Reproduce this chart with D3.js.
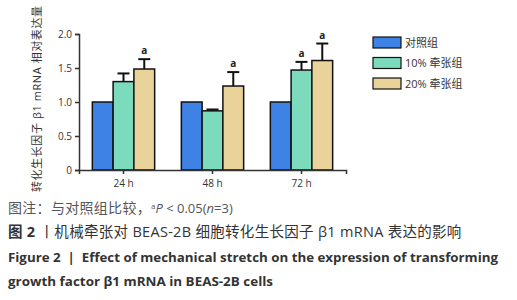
<!DOCTYPE html>
<html>
<head>
<meta charset="utf-8">
<script src="https://cdn.jsdelivr.net/npm/d3@7"></script>
<style>
  body { margin: 0; background: #fff; }
  text { font-family: "Open Sans", "Noto Sans CJK SC", sans-serif; white-space: pre; }
</style>
</head>
<body>
<div id="chart-area"></div>
<script>
// data
const times = ["24 h", "48 h", "72 h"]
const groups = ["对照组", "10% 牵张组", "20% 牵张组"]
const means = [
  [1.0, 1.30, 1.485],
  [1.0, 0.87, 1.235],
  [1.0, 1.47, 1.61]
]
const errTops = [
  [1.0, 1.42, 1.63],
  [1.0, 0.89, 1.44],
  [1.0, 1.59, 1.86]
]
const sig = [
  [false, false, true],
  [false, false, true],
  [false, true, true]
]
const yTicks = [0, 0.5, 1.0, 1.5, 2.0]
const colors = ["#3f82e6", "#7ddbbd", "#ead39a"]

var cw = 517, ch = 300
var svg = d3.select("#chart-area").append("svg")
    .attr("width", cw)
    .attr("height", ch)

var x0 = d3.scaleBand().domain(times).range([79, 346]).paddingInner(0.3).paddingOuter(0.15)
var x1 = d3.scaleBand().domain(groups).range([0, x0.bandwidth()])
var y = d3.scaleLinear().domain([0, 2]).range([170, 34])

var g = svg.append("g")

// bars
var grp = g.selectAll(".grp")
    .data(times)
    .enter().append("g")
    .attr("transform", d => `translate(${x0(d)},0)`)

grp.each(function(t, ti) {
    var sel = d3.select(this)
    groups.forEach((s, si) => {
        var bx = x1(s), bw = x1.bandwidth()
        // error bar
        if (errTops[ti][si] > means[ti][si]) {
            sel.append("line")
                .attr("x1", bx + bw / 2).attr("x2", bx + bw / 2)
                .attr("y1", y(means[ti][si])).attr("y2", y(errTops[ti][si]))
                .attr("stroke", "#111").attr("stroke-width", 2)
            sel.append("line")
                .attr("x1", bx + bw / 2 - 6).attr("x2", bx + bw / 2 + 6)
                .attr("y1", y(errTops[ti][si])).attr("y2", y(errTops[ti][si]))
                .attr("stroke", "#111").attr("stroke-width", 2)
        }
        sel.append("rect")
            .attr("x", bx)
            .attr("y", y(means[ti][si]))
            .attr("width", bw)
            .attr("height", y(0) - y(means[ti][si]))
            .attr("fill", colors[si])
            .attr("stroke", "#111")
            .attr("stroke-width", 1.5)
        if (sig[ti][si]) {
            sel.append("text")
                .attr("x", bx + bw / 2)
                .attr("y", y(errTops[ti][si]) - 5)
                .attr("text-anchor", "middle")
                .attr("font-size", "10px")
                .attr("font-weight", "bold")
                .attr("fill", "#222")
                .text("a")
        }
    })
})

// axes
var leftAxis = d3.axisLeft(y).tickValues(yTicks).tickSize(4).tickPadding(3)
    .tickFormat(d => d === 0 ? "0" : d3.format(".1f")(d))
var yAxisGroup = svg.append("g").attr("transform", "translate(79,0)").call(leftAxis)

var bottomAxis = d3.axisBottom(x0).tickSize(4).tickPadding(6)
var xAxisGroup = svg.append("g").attr("transform", "translate(0,170)").call(bottomAxis)

;[yAxisGroup, xAxisGroup].forEach(a => {
    a.select(".domain").attr("stroke", "#333").attr("stroke-width", 1.5)
    a.selectAll(".tick line").attr("stroke", "#333").attr("stroke-width", 1.5)
    a.selectAll(".tick text").attr("fill", "#333").attr("font-size", "10px")
        .attr("font-family", "'Open Sans', sans-serif")
})

svg.append("text")
    .attr("transform", "translate(41,99) rotate(-90)")
    .attr("text-anchor", "middle")
    .attr("font-size", "11px")
    .attr("fill", "#333")
    .attr("textLength", 186).attr("lengthAdjust", "spacing")
    .text("转化生长因子 β1 mRNA 相对表达量")

// legend
var legend = svg.append("g").attr("transform", "translate(373,37)")
var items = legend.selectAll(".legend-item")
    .data(groups)
    .enter().append("g")
    .attr("transform", (d, i) => `translate(0, ${i * 20.5})`)
items.append("rect")
    .attr("width", 28).attr("height", 11)
    .attr("fill", (d, i) => colors[i])
    .attr("stroke", "#111").attr("stroke-width", 1.2)
items.append("text")
    .attr("x", 32).attr("y", 9.5)
    .attr("font-size", "11px")
    .attr("fill", "#333")
    .text(d => d)

// captions
var cap = svg.append("g")
var l1 = cap.append("text").attr("x", 8).attr("y", 213).attr("font-size", "13px").attr("fill", "#555")
l1.append("tspan").attr("font-size", "14px").attr("letter-spacing", "0.3px").text("图注：与对照组比较，")
l1.append("tspan").attr("font-size", "8px").attr("dy", -4).text("a")
l1.append("tspan").attr("dy", 4).attr("font-style", "italic").text("P")
l1.append("tspan").text(" < 0.05(")
l1.append("tspan").attr("font-style", "italic").text("n")
l1.append("tspan").text("=3)")

var l2 = cap.append("text").attr("x", 8).attr("y", 237).attr("font-size", "14.5px").attr("fill", "#333")
    .attr("letter-spacing", "0.3px")
l2.append("tspan").attr("font-weight", "bold").text("图 2")
l2.append("tspan").text(" 丨机械牵张对 BEAS-2B 细胞转化生长因子 β1 mRNA 表达的影响")

cap.append("text").attr("x", 8).attr("y", 262).attr("font-size", "12.5px")
    .attr("font-weight", "bold").attr("fill", "#333")
    .attr("textLength", 490).attr("lengthAdjust", "spacingAndGlyphs")
    .text("Figure 2  |  Effect of mechanical stretch on the expression of transforming")
cap.append("text").attr("x", 8).attr("y", 286).attr("font-size", "12.5px")
    .attr("font-weight", "bold").attr("fill", "#333")
    .attr("textLength", 265).attr("lengthAdjust", "spacingAndGlyphs")
    .text("growth factor β1 mRNA in BEAS-2B cells")
</script>
</body>
</html>
